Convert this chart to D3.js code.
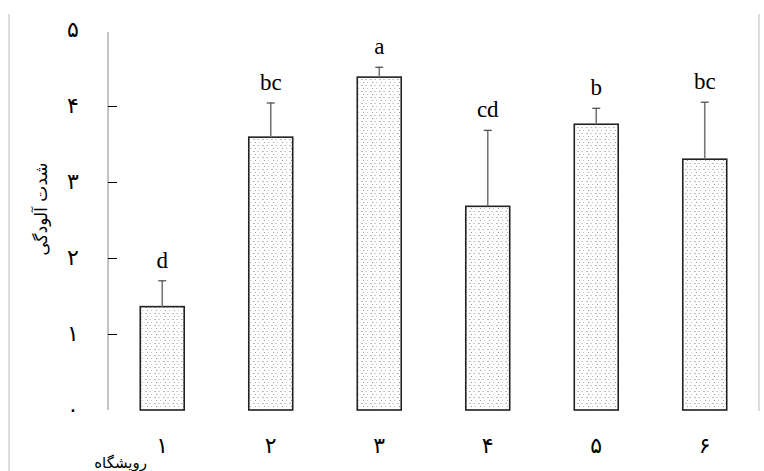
<!DOCTYPE html>
<html><head><meta charset="utf-8">
<script src="https://cdn.jsdelivr.net/npm/d3@7"></script>
<style>body{margin:0;background:#fff}svg{display:block}</style>
</head><body>
<script>
const categories = ["۱","۲","۳","۴","۵","۶"];
const means = [1.36, 3.59, 4.38, 2.68, 3.76, 3.30];
const errors = [0.34, 0.45, 0.13, 1.00, 0.21, 0.75];
const letters = ["d","bc","a","cd","b","bc"];
const yTicks = [0,1,2,3,4,5];
const yTickLabels = ["۰","۱","۲","۳","۴","۵"];
const yTitle = "شدت آلودگی";
const xTitle = "رویشگاه";

const W = 764, H = 471;
const svg = d3.select("body").append("svg").attr("width", W).attr("height", H);

const defs = svg.append("defs");
const pat = defs.append("pattern").attr("id","dots").attr("patternUnits","userSpaceOnUse")
  .attr("width",9).attr("height",6);
pat.append("rect").attr("width",9).attr("height",6).attr("fill","#fff");
pat.append("rect").attr("x",1).attr("y",1).attr("width",2).attr("height",1).attr("fill","#bbb");
pat.append("rect").attr("x",5).attr("y",1).attr("width",2).attr("height",1).attr("fill","#ccc");
pat.append("rect").attr("x",3).attr("y",4).attr("width",1).attr("height",1).attr("fill","#999");
pat.append("rect").attr("x",7).attr("y",4).attr("width",1).attr("height",1).attr("fill","#c4c4c4");

// frame lines
svg.append("line").attr("x1",9).attr("x2",9).attr("y1",14).attr("y2",H).attr("stroke","#bbb");
svg.append("line").attr("x1",759).attr("x2",759).attr("y1",14).attr("y2",411).attr("stroke","#bbb");

const x = d3.scaleBand().domain(categories).range([108, 759]).paddingInner(0.595).paddingOuter(0.2975);
const y = d3.scaleLinear().domain([0,5]).range([410, 30]);

// y axis
svg.append("line").attr("x1",108).attr("x2",108).attr("y1",y(5)+2).attr("y2",y(0)).attr("stroke","#888").attr("stroke-width",1);
const yAxis = d3.axisRight(y).tickValues(yTicks.filter(v=>v>0 && v<5)).tickSize(9).tickFormat("");
const ya = svg.append("g").attr("transform","translate(108,0)").call(yAxis);
ya.select(".domain").remove();
ya.selectAll(".tick line").attr("stroke","#000");

svg.append("g").selectAll("text").data(yTicks).join("text")
  .attr("x",73).attr("y",d=>y(d)).attr("dy","0.3em").attr("text-anchor","middle")
  .attr("font-family","DejaVu Sans").attr("font-size",22).attr("fill","#000")
  .text((d,i)=>yTickLabels[i]);

// y title
svg.append("text").attr("transform","translate(47,209) rotate(-90)").attr("text-anchor","middle")
  .attr("font-family","DejaVu Sans").attr("font-size",17).attr("fill","#000").text(yTitle);

// bars
const cx = d => x(d) + x.bandwidth()/2;
svg.append("g").selectAll("rect").data(categories).join("rect")
  .attr("x",d=>x(d)).attr("y",(d,i)=>y(means[i])).attr("width",x.bandwidth())
  .attr("height",(d,i)=>y(0)-y(means[i]))
  .attr("fill","url(#dots)").attr("stroke","#222").attr("stroke-width",1.6);

// error bars
const eb = svg.append("g");
eb.selectAll("line.v").data(categories).join("line").attr("class","v")
  .attr("x1",cx).attr("x2",cx).attr("y1",(d,i)=>y(means[i])).attr("y2",(d,i)=>y(means[i]+errors[i]))
  .attr("stroke","#777").attr("stroke-width",1.6);
eb.selectAll("line.c").data(categories).join("line").attr("class","c")
  .attr("x1",d=>cx(d)-4).attr("x2",d=>cx(d)+4).attr("y1",(d,i)=>y(means[i]+errors[i])).attr("y2",(d,i)=>y(means[i]+errors[i]))
  .attr("stroke","#444").attr("stroke-width",1.2);

// letters
svg.append("g").selectAll("text").data(categories).join("text")
  .attr("x",cx).attr("y",(d,i)=>y(means[i]+errors[i])-13).attr("text-anchor","middle")
  .attr("font-family","'Liberation Serif','Times New Roman','DejaVu Serif',serif").attr("font-size",23).attr("fill","#000")
  .text((d,i)=>letters[i]);

// x labels
svg.append("g").selectAll("text").data(categories).join("text")
  .attr("x",cx).attr("y",446).attr("dy","0.3em").attr("text-anchor","middle")
  .attr("font-family","DejaVu Sans").attr("font-size",22).attr("fill","#000").text(d=>d);

svg.append("text").attr("x",147).attr("y",468).attr("text-anchor","end")
  .attr("font-family","DejaVu Sans").attr("font-size",15).attr("fill","#000").text(xTitle);
</script>
</body></html>
